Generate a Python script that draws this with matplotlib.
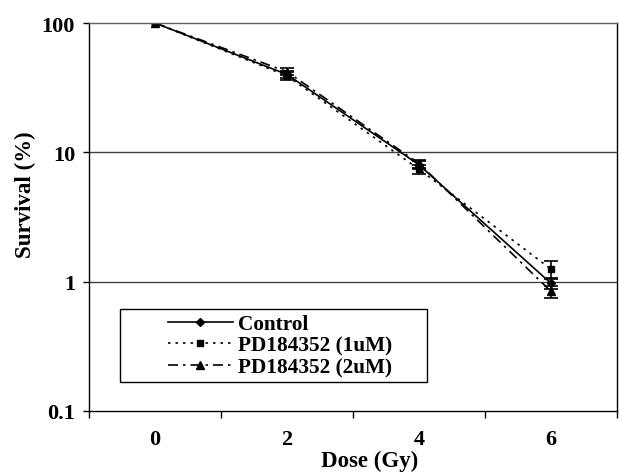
import matplotlib
matplotlib.use("Agg")
import matplotlib.pyplot as plt
from matplotlib.patches import Rectangle

plt.rcParams['font.family'] = ['Liberation Serif', 'DejaVu Serif']
plt.rcParams['font.weight'] = 'bold'

dose = [0, 2, 4, 6]
dose_labels = ["0", "2", "4", "6"]

control = [100, 40, 8.0, 0.97]
control_err = [0, 2.5, 0.6, 0.1]
pd_1um = [100, 39, 7.4, 1.25]
pd_1um_err = [0, 2.5, 0.6, 0.2]
pd_2um = [100, 42, 8.2, 0.84]
pd_2um_err = [0, 2.5, 0.6, 0.09]

fig = plt.figure(figsize=(6.2, 4.77), dpi=100)
ax = fig.add_axes([89 / 620, 1 - 412 / 477, 528 / 620, 388 / 477])

c1 = ax.errorbar(dose, control, yerr=control_err, color="black", lw=1.2, ls="-",
                 marker="D", ms=4.5, capsize=5, elinewidth=1.2, capthick=1.2)
c2 = ax.errorbar(dose, pd_1um, yerr=pd_1um_err, color="black", lw=1.2, ls=(0, (1.5, 3)),
                 marker="s", ms=5, capsize=5, elinewidth=1.2, capthick=1.2)
c3 = ax.errorbar(dose, pd_2um, yerr=pd_2um_err, color="black", lw=1.2, ls=(0, (6, 3, 1.5, 3)),
                 marker="^", ms=6, capsize=5, elinewidth=1.2, capthick=1.2)

ax.set_yscale("log")
ax.set_ylim(0.1, 100)
ax.set_yticks([0.1, 1, 10, 100])
ax.set_yticklabels(["0.1", "1", "10", "100"])
ax.yaxis.set_minor_locator(matplotlib.ticker.NullLocator())
ax.tick_params(axis="y", which="major", length=4, width=1, pad=6, labelsize=16)

ax.set_xlim(-1, 7)
ax.set_xticks(dose)
ax.set_xticklabels(dose_labels)
ax.set_xticks([-1, 1, 3, 5, 7], minor=True)
ax.tick_params(axis="x", which="major", length=0, pad=13, labelsize=16)
ax.tick_params(axis="x", which="minor", length=5, width=1)

for v in [1, 10]:
    ax.axhline(v, color="#404040", lw=1, zorder=0)
ax.spines["top"].set_color("#606060")
ax.spines["right"].set_color("black")
for s in ax.spines.values():
    s.set_linewidth(1)

fig.text(25 / 620, 1 - 195 / 477, "Survival (%)", rotation=90, ha="center",
         va="center", fontsize=16.5, fontweight="bold")
fig.text(370 / 620, 1 - 461 / 477, "Dose (Gy)", ha="center", va="center",
         fontsize=16.5, fontweight="bold")

# legend frame drawn separately, legend entries placed inside it
ax.add_patch(Rectangle(((120 - 89) / 528, (412 - 383) / 388), 307 / 528, 73 / 388,
                       transform=ax.transAxes, fill=True, facecolor="white",
                       edgecolor="black", lw=1, zorder=5))
leg = ax.legend([c1.lines[0], c2.lines[0], c3.lines[0]],
                ["Control", "PD184352 (1uM)", "PD184352 (2uM)"],
                loc="upper left",
                bbox_to_anchor=((168 - 89) / 528, (412 - 315) / 388),
                fontsize=15.3, handlelength=3.05, frameon=False, borderpad=0,
                labelspacing=0.08, handletextpad=0.25, borderaxespad=0)
leg.set_zorder(6)

fig.savefig("out.png", dpi=100)
